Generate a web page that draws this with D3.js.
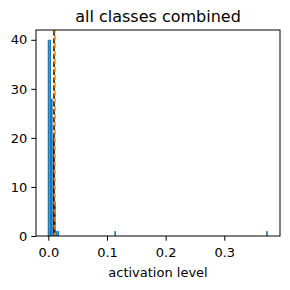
<!DOCTYPE html>
<html><head><meta charset="utf-8">
<script src="https://cdn.jsdelivr.net/npm/d3@7"></script>
<style>body{margin:0;background:#fff}svg{display:block;font-family:"DejaVu Sans",sans-serif}</style>
</head><body><div id="chart"></div>
<script>
const title = "all classes combined";
const xLabel = "activation level";
const binWidth = 0.0028;
const binStarts = [-0.0010, 0.0018, 0.0046, 0.0074, 0.0102, 0.0130, 0.0158, 0.1125, 0.3715];
const binCounts = [40, 40, 28, 20, 7, 1, 1, 1, 1];
const xTicks = [0.0, 0.1, 0.2, 0.3];
const yTicks = [0, 10, 20, 30, 40];
const meanValue = 0.0098;
const medianValue = 0.0113;

const W = 290, H = 290;
const L = 36, R = 280, T = 30, B = 236;
const svg = d3.select("#chart").append("svg").attr("width", W).attr("height", H);
const x = d3.scaleLinear().domain([-0.021, 0.395]).range([L, R]);
const y = d3.scaleLinear().domain([0, 42]).range([B, T]);

svg.append("g").selectAll("rect").data(binStarts.map((s, i) => ({s, c: binCounts[i]})))
  .join("rect")
  .attr("x", d => x(d.s)).attr("width", d => x(d.s + binWidth) - x(d.s))
  .attr("y", d => y(d.c)).attr("height", d => y(0) - y(d.c))
  .attr("fill", "#1f77b4");

svg.append("line").attr("x1", x(meanValue)).attr("x2", x(meanValue)).attr("y1", T).attr("y2", B)
  .attr("stroke", "#000").attr("stroke-width", 1.5).attr("stroke-dasharray", "5.5,2.4");
svg.append("line").attr("x1", x(medianValue)).attr("x2", x(medianValue)).attr("y1", T).attr("y2", B)
  .attr("stroke", "#ff7f0e").attr("stroke-width", 1.5).attr("stroke-dasharray", "5.5,2.4").attr("stroke-dashoffset", 3);

const xAxis = svg.append("g").attr("transform", `translate(0,${B})`)
  .call(d3.axisBottom(x).tickValues(xTicks).tickFormat(d3.format(".1f")).tickSize(4.7).tickPadding(7.5));
const yAxis = svg.append("g").attr("transform", `translate(${L},0)`)
  .call(d3.axisLeft(y).tickValues(yTicks).tickSize(4.7).tickPadding(4));
[xAxis, yAxis].forEach(a => {
  a.select(".domain").remove();
  a.selectAll("text").attr("font-size", 13).attr("fill", "#000").attr("font-family", "DejaVu Sans");
  a.selectAll("line").attr("stroke", "#000").attr("stroke-width", 1);
});

svg.append("rect").attr("x", L).attr("y", T).attr("width", R - L).attr("height", B - T)
  .attr("fill", "none").attr("stroke", "#000").attr("stroke-width", 1);

svg.append("text").attr("x", (L + R) / 2).attr("y", 22).attr("text-anchor", "middle")
  .attr("font-size", 16).text(title);
svg.append("text").attr("x", (L + R) / 2).attr("y", 277).attr("text-anchor", "middle")
  .attr("font-size", 13).text(xLabel);
</script></body></html>
